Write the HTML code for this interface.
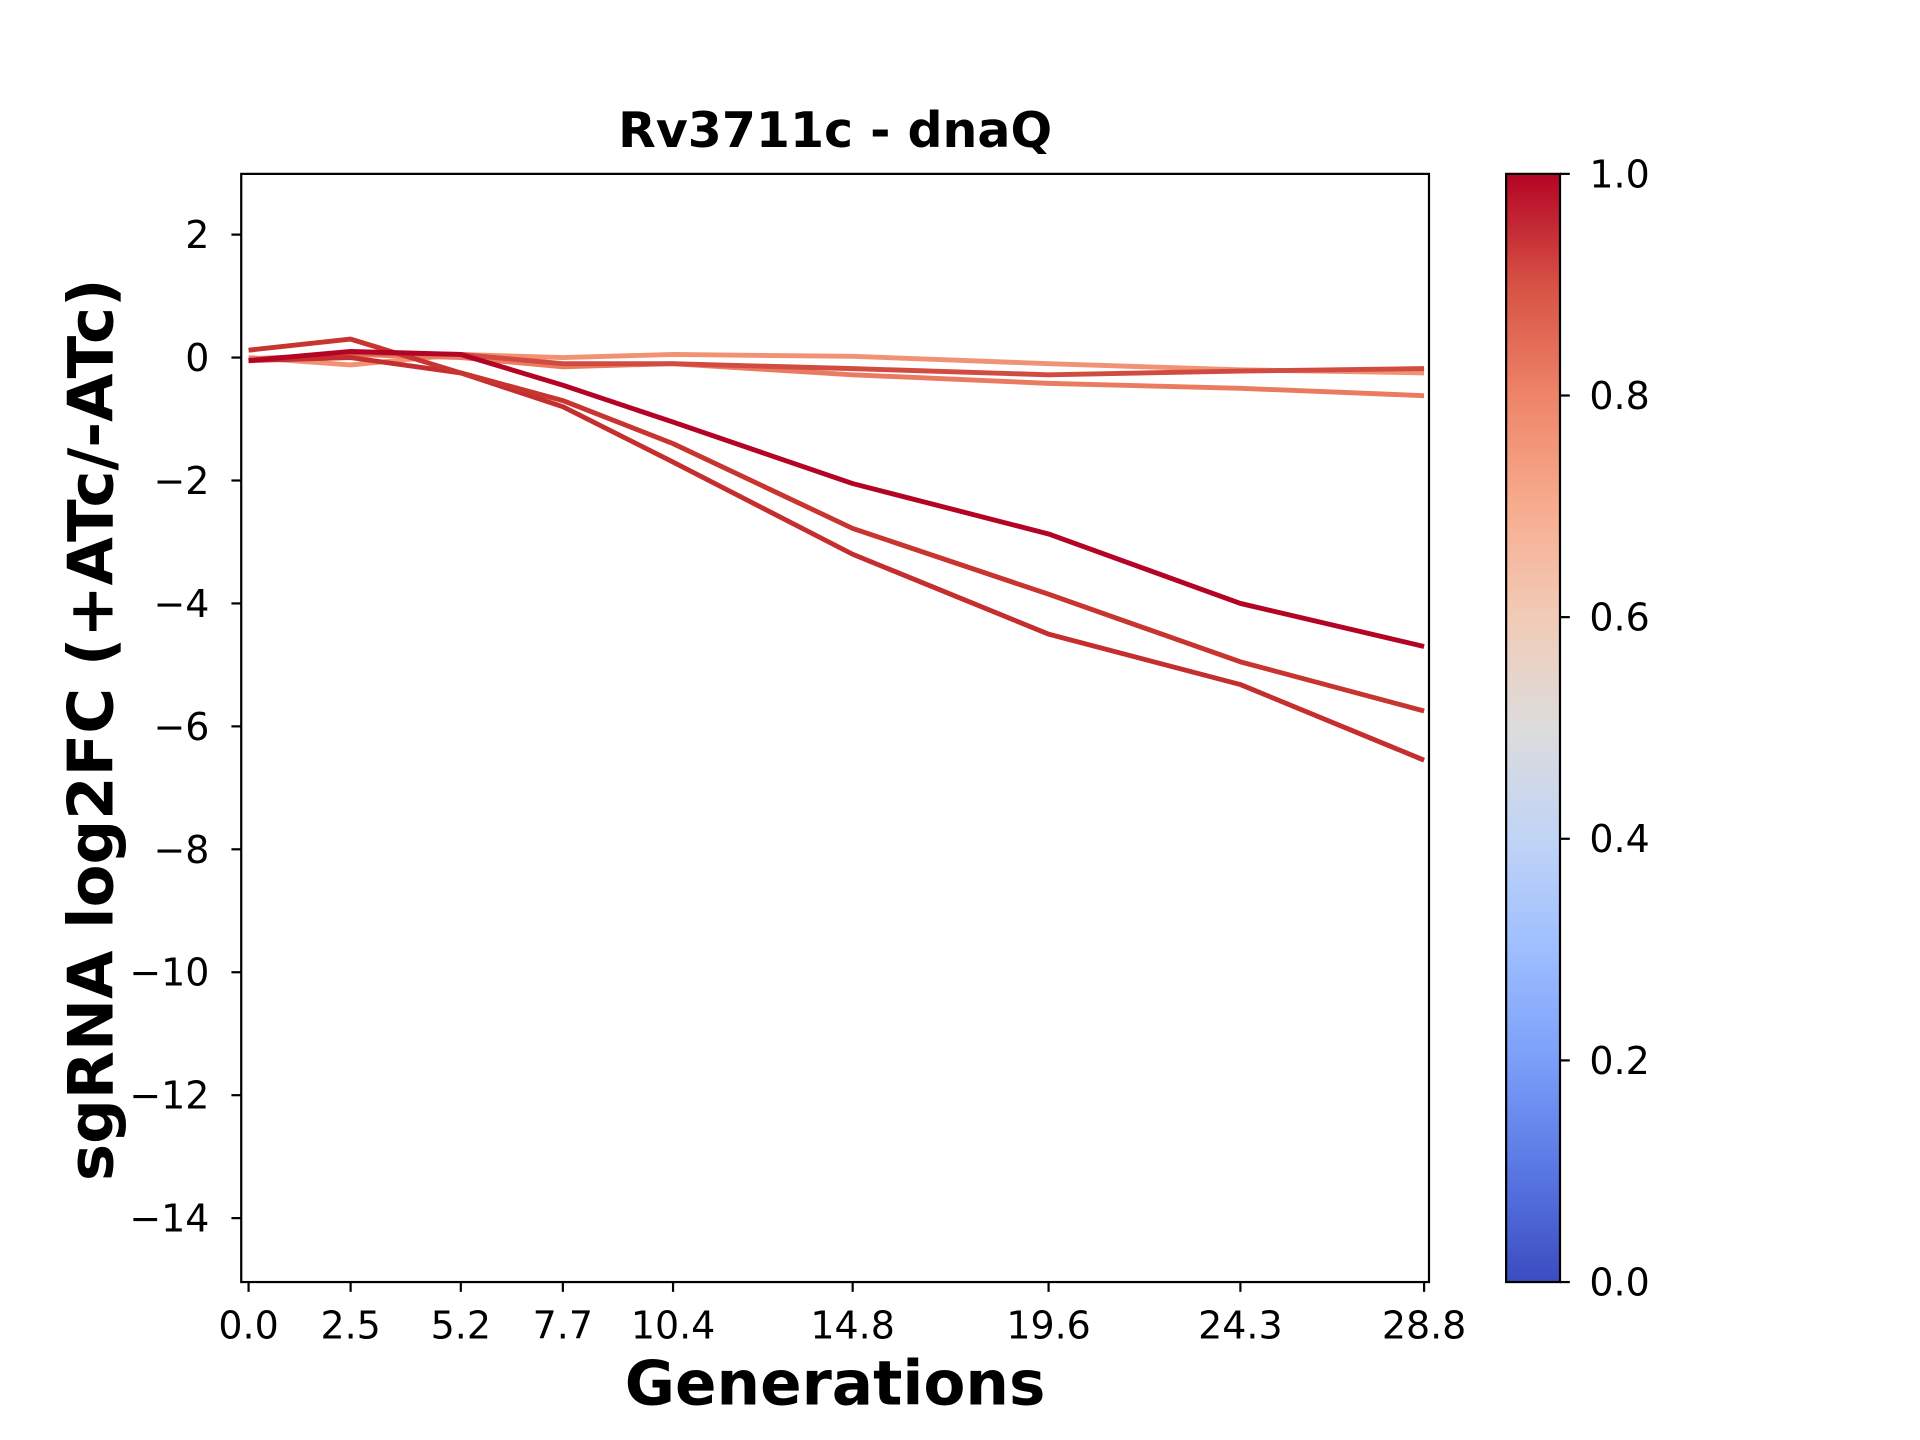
<!DOCTYPE html>
<html><head><meta charset="utf-8"><style>
html,body{margin:0;padding:0;background:#fff;}
svg{display:block;font-family:"DejaVu Sans","Liberation Sans",sans-serif;}
</style></head><body>
<svg id="chart" width="1920" height="1440" viewBox="0 0 1568 1176" xmlns="http://www.w3.org/2000/svg">
<defs>
<linearGradient id="cw" x1="0" y1="1" x2="0" y2="0">
<stop offset="0" stop-color="#3b4cc0"/><stop offset="0.1" stop-color="#5977e3"/>
<stop offset="0.2" stop-color="#7b9ff9"/><stop offset="0.3" stop-color="#9ebeff"/>
<stop offset="0.4" stop-color="#c0d4f5"/><stop offset="0.5" stop-color="#dddcdc"/>
<stop offset="0.6" stop-color="#f2cbb7"/><stop offset="0.7" stop-color="#f7ac8e"/>
<stop offset="0.8" stop-color="#ee8468"/><stop offset="0.9" stop-color="#d65244"/>
<stop offset="1" stop-color="#b40426"/>
</linearGradient>
</defs>
<text x="682" y="120" font-size="40" font-weight="bold" text-anchor="middle">Rv3711c - dnaQ</text>
<g id="lines"></g>
<rect x="197" y="142" width="970" height="905" fill="none" stroke="#000" stroke-width="1.8"/>
<g id="xaxis"></g>
<g id="yaxis"></g>
<text x="682" y="1147" font-size="50" font-weight="bold" text-anchor="middle">Generations</text>
<text transform="translate(92,596) rotate(-90)" font-size="51" font-weight="bold" text-anchor="middle">sgRNA log2FC (+ATc/-ATc)</text>
<rect x="1230" y="142" width="44" height="905" fill="url(#cw)" stroke="#000" stroke-width="1.8"/>
<g id="cbar"></g>
</svg>
<script>
const generations = [0.0, 2.5, 5.2, 7.7, 10.4, 14.8, 19.6, 24.3, 28.8];
const seriesA = [-0.05, 0.1, 0.05, -0.45, -1.05, -2.05, -2.87, -4.0, -4.7];
const seriesB = [0.12, 0.3, -0.25, -0.7, -1.4, -2.78, -3.85, -4.95, -5.75];
const seriesC = [-0.05, 0.0, -0.25, -0.8, -1.7, -3.2, -4.5, -5.32, -6.55];
const seriesD = [0.0, -0.12, 0.05, 0.0, 0.05, 0.02, -0.1, -0.2, -0.25];
const seriesE = [-0.02, 0.05, 0.0, -0.15, -0.1, -0.28, -0.42, -0.5, -0.62];
const seriesF = [-0.05, 0.08, 0.05, -0.1, -0.1, -0.18, -0.28, -0.22, -0.18];
const seriesColors = ["#b40426", "#c83530", "#c52e2f", "#f29274", "#ea7b60", "#d14b40"];
const yTicks = [2, 0, -2, -4, -6, -8, -10, -12, -14];
const cbarTicks = [0.0, 0.2, 0.4, 0.6, 0.8, 1.0];

const NS = "http://www.w3.org/2000/svg";
const xs = v => 203 + (v / 28.8) * 960;
const ys = v => 292 - v * 50.2;
const cs = v => 1047 - v * 905;
function mk(tag, attrs, parent, text) {
  const e = document.createElementNS(NS, tag);
  for (const k in attrs) e.setAttribute(k, attrs[k]);
  if (text !== undefined) e.textContent = text;
  parent.appendChild(e); return e;
}
const lines = document.getElementById('lines');
const allSeries = [seriesD, seriesE, seriesF, seriesC, seriesB, seriesA];
const allColors = [seriesColors[3], seriesColors[4], seriesColors[5], seriesColors[2], seriesColors[1], seriesColors[0]];
allSeries.forEach((s, i) => {
  const p = mk('polyline', {points: s.map((v, j) => xs(generations[j]) + ',' + ys(v)).join(' '), fill: 'none', stroke: allColors[i], 'stroke-width': 4, 'stroke-linejoin': 'round'}, lines);
  
  
});
const xa = document.getElementById('xaxis');
generations.forEach(g => {
  const t = mk('line', {x1: xs(g), x2: xs(g), y1: 1047, y2: 1055, stroke: '#000', 'stroke-width': 1.8}, xa);
  
  
  const l = mk('text', {x: xs(g), y: 1093, 'font-size': 31, 'text-anchor': 'middle'}, xa, g.toFixed(1));
  
  
});
const ya = document.getElementById('yaxis');
yTicks.forEach(v => {
  const t = mk('line', {x1: 189, x2: 197, y1: ys(v), y2: ys(v), stroke: '#000', 'stroke-width': 1.8}, ya);
  
  
  const l = mk('text', {x: 171, y: ys(v) + 11, 'font-size': 31, 'text-anchor': 'end'}, ya, v < 0 ? '\u2212' + Math.abs(v) : String(v));
  
  
});
const cb = document.getElementById('cbar');
cbarTicks.forEach(v => {
  const t = mk('line', {x1: 1274, x2: 1282, y1: cs(v), y2: cs(v), stroke: '#000', 'stroke-width': 1.8}, cb);
  
  
  const l = mk('text', {x: 1298, y: cs(v) + 11, 'font-size': 31}, cb, v.toFixed(1));
  
  
});
</script>
</body></html>
